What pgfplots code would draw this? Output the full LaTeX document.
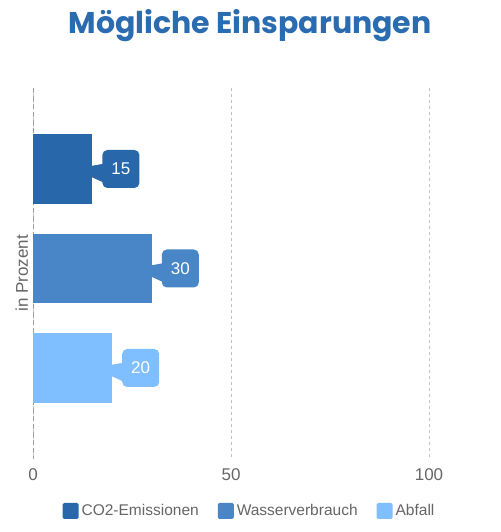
\documentclass[border=0pt]{standalone}
\usepackage{fontspec}
\setmainfont{Liberation Sans}
\newfontfamily\titlefont{Poppins}
\usepackage{pgfplots}
\pgfplotsset{compat=1.18}
\usetikzlibrary{shapes.callouts}

\definecolor{co2blue}{HTML}{2868AA}
\definecolor{waterblue}{HTML}{4886C7}
\definecolor{wasteblue}{HTML}{80BFFF}
\definecolor{titleblue}{HTML}{2B6CB0}
\definecolor{textgray}{HTML}{666666}
\definecolor{gridgray}{HTML}{C0C0C0}
\definecolor{axisgray}{HTML}{A0A0A0}

\begin{document}
\begin{tikzpicture}
  \path[use as bounding box] (0,0) rectangle (500pt,532pt);

  \begin{axis}[
    at={(33pt,73pt)}, anchor=south west,
    scale only axis,
    width=396pt, height=371pt,
    xbar,
    bar width=0.7,
    y dir=reverse,
    xmin=0, xmax=100,
    ymin=0.186, ymax=3.915,
    xtick={0,50,100},
    ytick=\empty,
    axis line style={draw=none},
    major tick length=0pt,
    xmajorgrids,
    x grid style={dashed, gridgray, line width=0.8pt},
    /pgf/number format/assume math mode=true,
    xticklabel style={font=\fontsize{17}{17}\selectfont, text=textgray, yshift=-6pt},
    ylabel={in Prozent},
    every axis y label/.style={at={(axis description cs:-0.028,0.5)}, rotate=90, anchor=center,
      font=\fontsize{17}{17}\selectfont, text=textgray},
    title={Mögliche Einsparungen},
    title style={at={(axis description cs:0.548,1.152)}, anchor=center,
      font=\titlefont\bfseries\fontsize{30}{30}\selectfont, text=titleblue},
    point meta=x,
    nodes near coords,
    every node near coord/.append style={
      rectangle callout, anchor=west, xshift=10pt, outer sep=0pt,
      callout relative pointer={(-28.5pt,0pt)}, callout pointer width=18pt,
      rounded corners=5pt, minimum width=37pt, minimum height=38pt,
      text=white, font=\fontsize{17}{17}\selectfont},
    legend image code/.code={\fill[#1, rounded corners=1.5pt] (0pt,-8pt) rectangle (16pt,8pt);},
    legend columns=3,
    legend style={
      at={(axis description cs:0.548,-0.140)}, anchor=center,
      draw=none, font=\fontsize{15.5}{15.5}\selectfont, text=textgray,
      /tikz/every even column/.append style={column sep=16pt},
      nodes={inner xsep=3pt, inner ysep=0pt}},
  ]
    % left axis line, a bit darker than the grid
    \draw[axisgray, line width=1pt, dash pattern=on 5pt off 3pt]
      (axis cs:0,0.186) -- (axis cs:0,3.915);

    \addplot[bar shift=0pt, fill=co2blue, draw=none,
      every node near coord/.append style={fill=co2blue}]
      coordinates {(15,1)};
    \addlegendentry{CO2-Emissionen}
    \addplot[bar shift=0pt, fill=waterblue, draw=none,
      every node near coord/.append style={fill=waterblue}]
      coordinates {(30,2)};
    \addlegendentry{Wasserverbrauch}
    \addplot[bar shift=0pt, fill=wasteblue, draw=none,
      every node near coord/.append style={fill=wasteblue}]
      coordinates {(20,3)};
    \addlegendentry{Abfall}
  \end{axis}
\end{tikzpicture}
\end{document}
